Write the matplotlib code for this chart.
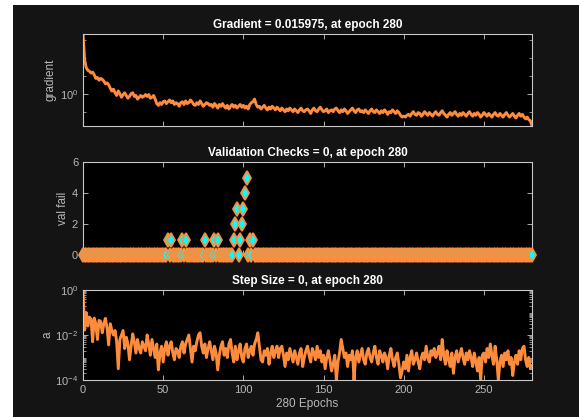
import matplotlib
matplotlib.use('Agg')
import matplotlib.pyplot as plt
from matplotlib.patches import Rectangle
from matplotlib.ticker import LogLocator, NullFormatter, FixedLocator, FixedFormatter
import numpy as np

plt.rcParams['font.family'] = ['Liberation Sans', 'DejaVu Sans']
plt.rcParams['mathtext.default'] = 'regular'

# log10 of the gradient, epochs 0..280
grad_log = [
    3.32, 1.9, 1.45, 1.3, 1.25, 1.15, 1.2, 1.05, 0.85, 0.9, 0.75, 0.85, 0.8, 0.7, 0.55, 0.6, 0.5, 0.3, 0.15, 0.25,
    0.05, -0.1, 0.15, 0.0, -0.2, -0.05, 0.05, -0.1, -0.25, -0.15, 0.0, 0.05, -0.15, -0.1, -0.3, -0.2, -0.1, -0.2, -0.15, -0.05,
    -0.15, -0.05, -0.25, -0.2, -0.1, -0.3, -0.55, -0.65, -0.5, -0.6, -0.45, -0.4, -0.55, -0.45, -0.35, -0.5, -0.4, -0.6, -0.5, -0.55,
    -0.7, -0.5, -0.45, -0.6, -0.4, -0.55, -0.5, -0.35, -0.45, -0.6, -0.65, -0.5, -0.6, -0.4, -0.55, -0.7, -0.6, -0.5, -0.55, -0.65,
    -0.6, -0.75, -0.55, -0.65, -0.8, -0.6, -0.7, -0.55, -0.7, -0.8, -0.65, -0.85, -0.7, -0.6, -0.75, -0.65, -0.8, -0.7, -0.6, -0.75,
    -0.65, -0.8, -0.7, -0.85, -0.6, -0.5, -0.45, -0.3, -0.6, -0.75, -0.7, -0.85, -0.75, -0.65, -0.8, -0.9, -0.75, -0.85, -0.7, -0.8,
    -0.9, -0.75, -0.85, -0.95, -0.8, -0.9, -1.0, -0.85, -0.95, -0.8, -0.9, -1.0, -0.85, -0.95, -1.05, -0.9, -0.8, -0.95, -1.0, -0.9,
    -0.85, -0.95, -1.1, -0.9, -0.8, -0.95, -1.0, -0.85, -0.75, -0.9, -1.0, -0.95, -0.85, -1.05, -0.95, -0.9, -1.0, -0.85, -0.8, -0.95,
    -1.05, -0.9, -1.0, -0.85, -0.95, -1.1, -1.0, -0.9, -0.8, -0.95, -1.05, -0.9, -0.85, -1.0, -0.95, -1.05, -0.9, -1.0, -1.1, -0.95,
    -0.85, -1.0, -1.05, -0.9, -1.0, -1.1, -0.95, -1.05, -0.9, -1.0, -1.15, -1.0, -1.05, -0.9, -1.0, -1.1, -0.95, -1.05, -1.2, -1.3,
    -1.25, -1.3, -1.2, -1.15, -1.25, -1.1, -1.0, -1.15, -1.2, -1.05, -1.1, -1.25, -1.15, -1.0, -1.1, -1.2, -1.05, -1.15, -1.25, -1.1,
    -1.0, -1.15, -1.2, -1.05, -0.95, -1.1, -1.2, -1.3, -1.15, -1.05, -1.2, -1.1, -1.0, -1.15, -1.25, -1.1, -1.2, -1.05, -1.15, -1.25,
    -1.1, -1.0, -1.15, -1.25, -1.1, -1.2, -1.05, -1.15, -1.3, -1.2, -1.05, -1.15, -1.25, -1.1, -1.2, -1.3, -1.15, -1.05, -1.2, -1.25,
    -1.1, -1.2, -1.3, -1.15, -1.05, -1.2, -1.3, -1.2, -1.1, -1.25, -1.35, -1.2, -1.1, -1.25, -1.15, -1.3, -1.4, -1.3, -1.45, -1.5,
    -1.7965,
]

# validation failures, non-zero epochs only (all others are 0)
fail_epochs = [53, 55, 62, 64, 76, 82, 84, 94, 95, 96, 98, 99, 100, 101, 102, 104, 106]
fail_values = [1, 1, 1, 1, 1, 1, 1, 1, 2, 3, 1, 2, 3, 4, 5, 1, 1]

# log10 of the step size, epochs 0..280
step_log = [
    0, -1.78, -1.0, -1.6, -1.2, -1.3, -2.3, -1.25, -1.5, -2.2, -1.35, -1.4, -1.9, -1.5, -1.26, -1.7, -2.44, -1.5, -1.8, -2.0,
    -1.8, -2.3, -3.5, -2.2, -2.0, -1.8, -2.6, -2.1, -2.4, -3.1, -2.5, -1.95, -2.3, -2.8, -2.2, -2.6, -2.8, -2.3, -2.5, -2.7,
    -2.0, -2.4, -2.9, -2.2, -2.6, -3.0, -2.4, -3.55, -2.8, -2.5, -3.2, -2.6, -2.3, -2.9, -2.5, -2.3, -2.8, -3.1, -2.6, -2.7,
    -3.0, -2.5, -2.3, -2.8, -2.4, -2.2, -2.0, -2.6, -3.2, -2.5, -2.7, -2.3, -2.0, -1.9, -2.5, -2.8, -2.4, -3.0, -2.6, -2.3,
    -2.7, -3.1, -2.5, -2.8, -3.55, -2.9, -2.5, -2.3, -2.9, -2.6, -3.0, -2.4, -2.2, -2.8, -3.2, -2.5, -3.1, -2.7, -2.4, -3.0,
    -3.2, -2.6, -2.4, -3.0, -2.7, -2.5, -2.9, -2.4, -2.2, -1.9, -2.5, -3.1, -3.2, -2.7, -2.9, -2.6, -3.3, -2.8, -2.5, -3.0,
    -2.7, -2.5, -3.0, -2.6, -2.5, -2.9, -3.4, -2.8, -3.1, -2.6, -2.9, -3.2, -2.7, -3.0, -3.3, -2.8, -2.6, -3.4, -3.0, -2.7,
    -2.5, -2.9, -3.2, -2.6, -2.8, -3.1, -2.5, -3.0, -2.7, -3.2, -2.9, -3.5, -3.0, -2.7, -3.1, -3.6, -3.3, -2.9, -4.0, -3.2,
    -2.8, -2.2, -2.6, -3.0, -2.8, -3.4, -2.9, -3.1, -2.7, -4.0, -3.0, -2.7, -3.2, -2.9, -2.6, -3.1, -3.3, -2.8, -2.6, -3.0,
    -3.2, -2.8, -2.5, -3.0, -3.3, -2.7, -2.9, -3.2, -2.8, -3.0, -3.5, -2.9, -2.6, -3.1, -3.4, -3.0, -2.8, -3.3, -3.9, -3.6,
    -3.2, -3.5, -2.9, -3.6, -3.0, -2.7, -3.3, -3.1, -2.8, -3.2, -3.5, -3.0, -2.8, -3.1, -2.5, -3.0, -3.2, -2.7, -2.9, -2.6,
    -3.0, -2.8, -2.5, -3.1, -2.2, -2.9, -3.3, -2.7, -3.1, -3.4, -2.8, -3.7, -3.0, -2.7, -3.2, -2.9, -2.6, -3.0, -3.3, -2.8,
    -3.1, -2.7, -3.0, -3.4, -2.8, -3.2, -3.6, -3.0, -4.0, -2.9, -2.8, -3.2, -2.6, -3.0, -2.4, -2.9, -3.3, -2.5, -3.1, -4.0,
    -3.2, -2.9, -3.4, -2.8, -3.1, -2.7, -3.3, -3.0, -3.8, -3.2, -2.9, -3.3, -2.7, -3.1, -2.6, -2.5, -3.1, -3.4, -3.0, -3.5,
    -3.4,
]

epochs = np.arange(len(grad_log))
grad = 10 ** np.array(grad_log)
step = 10 ** np.array(step_log)
val_fail = np.zeros(len(epochs))
val_fail[fail_epochs] = fail_values

orange = '#ff8c3c'
cyan = '#00ffff'
edge = '#c8c8c8'
txt = '#b8b8b8'

fig = plt.figure(figsize=(5.79, 4.17), dpi=100)
fig.patch.set_facecolor('white')
fig.patches.append(Rectangle((13 / 579, 0), 1, 1 - 5 / 417, transform=fig.transFigure,
                             facecolor='#141414', edgecolor='none', zorder=-10))

left, width = 83 / 579, 449 / 579
ax1 = fig.add_axes([left, 1 - 126 / 417, width, 92 / 417])
ax2 = fig.add_axes([left, 1 - 255 / 417, width, 93 / 417])
ax3 = fig.add_axes([left, 1 - 380 / 417, width, 90 / 417])


def style(ax):
    ax.set_facecolor('black')
    for s in ax.spines.values():
        s.set_color(edge)
        s.set_linewidth(0.8)
    ax.tick_params(which='both', direction='in', colors=edge, labelcolor=txt,
                   labelsize=8, top=True, right=True)
    ax.tick_params(which='major', length=3.5, width=0.6)
    ax.tick_params(which='minor', length=2, width=0.5)
    ax.set_xlim(0, 280)
    ax.set_xticks([0, 50, 100, 150, 200, 250])


# gradient
style(ax1)
ax1.semilogy(epochs, grad, color=orange, lw=2.1)
ax1.set_ylim(grad[-1], grad[0])
ax1.yaxis.set_major_locator(FixedLocator([1.0]))
ax1.yaxis.set_major_formatter(FixedFormatter(['$10^{0}$']))
ax1.yaxis.set_minor_locator(FixedLocator([0.1, 10, 100, 1000]))
ax1.yaxis.set_minor_formatter(NullFormatter())
ax1.tick_params(axis='x', labelbottom=False)
ax1.set_ylabel('gradient', color=txt, fontsize=8.5, labelpad=2)
ax1.set_title('Gradient = 0.015975, at epoch 280', color='white',
              fontsize=8.5, fontweight='bold', pad=4)

# validation checks
style(ax2)
ax2.plot(epochs, val_fail, ls='none', marker='d', ms=7.5, mfc=cyan, mec=orange,
         mew=1.3, clip_on=False, zorder=5)
ax2.set_ylim(0, 6)
ax2.set_yticks([0, 2, 4, 6])
ax2.tick_params(axis='x', labelbottom=False)
ax2.set_ylabel('val fail', color=txt, fontsize=8.5, labelpad=2)
ax2.set_title('Validation Checks = 0, at epoch 280', color='white',
              fontsize=8.5, fontweight='bold', pad=4)

# step size
style(ax3)
ax3.semilogy(epochs, step, color=orange, lw=2.1)
ax3.set_ylim(1e-4, 1)
ax3.yaxis.set_major_locator(FixedLocator([1e-4, 1e-2, 1]))
ax3.yaxis.set_major_formatter(FixedFormatter(['$10^{-4}$', '$10^{-2}$', '$10^{0}$']))
ax3.yaxis.set_minor_locator(LogLocator(base=10, subs=np.arange(1, 10), numticks=20))
ax3.yaxis.set_minor_formatter(NullFormatter())
ax3.set_ylabel('a', color=txt, fontsize=8.5, labelpad=1)
ax3.set_xlabel('280 Epochs', color=txt, fontsize=8.5, labelpad=2)
ax3.set_title('Step Size = 0, at epoch 280', color='white',
              fontsize=8.5, fontweight='bold', pad=4)

fig.savefig('out.png', dpi=100, facecolor=fig.get_facecolor())
